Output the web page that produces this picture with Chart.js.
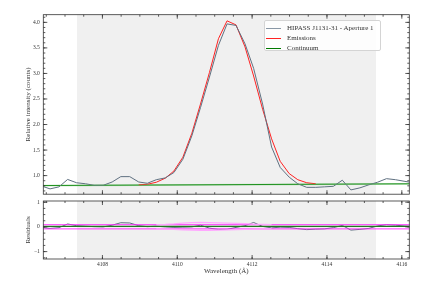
<!DOCTYPE html>
<html>
<head>
<meta charset="utf-8">
<script src="https://cdn.jsdelivr.net/npm/chart.js@4/dist/chart.umd.min.js"></script>
<style>
  html, body { margin: 0; padding: 0; background: #fff; }
  #wrap { position: relative; width: 432px; height: 288px; overflow: hidden; }
  canvas { position: absolute; left: 0; }
  #top { top: 0; }
  #bottom { top: 190px; }
  #legend {
    position: absolute; left: 264px; top: 20px; width: 117px; height: 31px;
    background: rgba(255,255,255,0.85); border: 1px solid #d4d4d4; border-radius: 2px;
    font-family: "Liberation Serif", "DejaVu Serif", serif; font-size: 7px; color: #333;
    box-sizing: border-box; padding-top: 2px;
  }
  #legend div { height: 10px; line-height: 10px; white-space: nowrap; }
  #legend span.sw { display: inline-block; width: 15px; height: 0; vertical-align: middle; margin: 0 6px 0 1px; }
</style>
</head>
<body>
<div id="wrap">
  <canvas id="top" width="432" height="201"></canvas>
  <canvas id="bottom" width="432" height="98"></canvas>
  <div id="legend">
    <div><span class="sw" style="border-top:1.5px solid #8a98a6"></span>HIPASS J1131-31 - Aperture 1</div>
    <div><span class="sw" style="border-top:1.2px solid #ff2222"></span>Emissions</div>
    <div><span class="sw" style="border-top:1.2px solid #007a00"></span>Continuum</div>
  </div>
</div>
<script>
// ---- data ----
const wavelength = [4106.36, 4106.60, 4106.84, 4107.07, 4107.31, 4107.55, 4107.78, 4108.02, 4108.26, 4108.49,
  4108.73, 4108.97, 4109.20, 4109.44, 4109.68, 4109.91, 4110.15, 4110.39, 4110.62, 4110.86,
  4111.10, 4111.33, 4111.57, 4111.81, 4112.04, 4112.28, 4112.52, 4112.75, 4112.99, 4113.22,
  4113.46, 4113.70, 4113.93, 4114.17, 4114.41, 4114.64, 4114.88, 4115.12, 4115.35, 4115.59,
  4115.83, 4116.06, 4116.30];

const flux = [0.80, 0.74, 0.78, 0.925, 0.86, 0.84, 0.81, 0.81, 0.875, 0.98,
  0.98, 0.875, 0.85, 0.92, 0.955, 1.06, 1.32, 1.78, 2.33, 2.93,
  3.55, 3.97, 3.94, 3.58, 3.10, 2.40, 1.56, 1.16, 0.97, 0.84,
  0.77, 0.77, 0.78, 0.79, 0.91, 0.72, 0.76, 0.82, 0.87, 0.94,
  0.92, 0.89, 0.86];

const emissionWave = [4108.97, 4109.20, 4109.44, 4109.68, 4109.91, 4110.15, 4110.39, 4110.62, 4110.86, 4111.10,
  4111.33, 4111.57, 4111.81, 4112.04, 4112.28, 4112.52, 4112.75, 4112.99, 4113.22, 4113.46, 4113.70];
const emissionFlux = [0.82, 0.83, 0.87, 0.95, 1.09, 1.36, 1.83, 2.40, 3.02, 3.68,
  4.03, 3.95, 3.52, 2.95, 2.30, 1.72, 1.28, 1.04, 0.92, 0.86, 0.84];

const continuumWave = [4106.30, 4116.30];
const continuumFlux = [0.805, 0.84];

const residual = [-0.02, -0.06, -0.03, 0.12, 0.05, 0.03, 0.01, 0.00, 0.07, 0.17,
  0.16, 0.05, 0.01, 0.03, 0.00, -0.02, -0.01, 0.00, 0.07, -0.05,
  -0.10, -0.10, -0.02, 0.05, 0.18, 0.02, -0.04, -0.01, -0.02, -0.07,
  -0.11, -0.09, -0.08, -0.03, 0.06, -0.13, -0.10, -0.06, 0.04, 0.09,
  0.07, 0.04, 0.02];

const errUpper = [0.09, 0.09];
const errLower = [-0.08, -0.08];
const zeroLine = [0.02, 0.02];

const envWave = [4109.44, 4109.68, 4109.91, 4110.15, 4110.39, 4110.62, 4110.86, 4111.10, 4111.33, 4111.57,
  4111.81, 4112.04, 4112.28, 4112.52];
const envUpper = [0.09, 0.10, 0.12, 0.15, 0.17, 0.18, 0.17, 0.16, 0.15, 0.14, 0.13, 0.11, 0.10, 0.09];
const envLower = [-0.08, -0.09, -0.10, -0.12, -0.13, -0.14, -0.14, -0.13, -0.12, -0.11, -0.10, -0.09, -0.08, -0.08];

const xTicks = [4108, 4110, 4112, 4114, 4116];
const yTicksTop = [1.0, 1.5, 2.0, 2.5, 3.0, 3.5, 4.0];
const yTicksRes = [-1, 0, 1];
const fitRange = [4107.32, 4115.31];

// ---- helpers ----
const X_MIN = 4106.42, X_MAX = 4116.2;
const serif = "'Liberation Serif', 'DejaVu Serif', serif";

function pts(xs, ys) {
    return xs.map((x, i) => ({ x: x, y: ys[i] }));
}

function line(label, data, color, width) {
    return { label, data, borderColor: color, borderWidth: width, pointRadius: 0, tension: 0, fill: false };
}

function minorList(lo, hi, step) {
    const out = [];
    for (let v = Math.ceil(lo / step) * step; v <= hi + 1e-9; v += step) out.push(+v.toFixed(4));
    return out;
}

// shaded fit window + inward ticks on all four sides, like the matplotlib original
const framePlugin = {
    id: 'frame',
    beforeDatasetsDraw(chart, args, opts) {
        const { ctx, chartArea: a, scales } = chart;
        const x0 = scales.x.getPixelForValue(fitRange[0]);
        const x1 = scales.x.getPixelForValue(fitRange[1]);
        ctx.save();
        ctx.fillStyle = '#f0f0f0';
        ctx.fillRect(x0, a.top, x1 - x0, a.bottom - a.top);
        ctx.restore();
    },
    afterDraw(chart, args, opts) {
        const { ctx, chartArea: a, scales } = chart;
        ctx.save();
        ctx.strokeStyle = '#333';
        ctx.lineWidth = 0.8;
        ctx.strokeRect(a.left, a.top, a.right - a.left, a.bottom - a.top);
        ctx.beginPath();
        const tickX = (v, len) => {
            const px = scales.x.getPixelForValue(v);
            if (px < a.left || px > a.right) return;
            ctx.moveTo(px, a.bottom); ctx.lineTo(px, a.bottom - len);
            ctx.moveTo(px, a.top); ctx.lineTo(px, a.top + len);
        };
        const tickY = (v, len) => {
            const py = scales.y.getPixelForValue(v);
            if (py < a.top - 0.5 || py > a.bottom + 0.5) return;
            ctx.moveTo(a.left, py); ctx.lineTo(a.left + len, py);
            ctx.moveTo(a.right, py); ctx.lineTo(a.right - len, py);
        };
        minorList(X_MIN, X_MAX, 0.5).forEach(v => tickX(v, 2));
        xTicks.forEach(v => tickX(v, 4));
        minorList(opts.yMin, opts.yMax, opts.yMinor).forEach(v => tickY(v, 2));
        opts.yMajor.forEach(v => tickY(v, 4));
        ctx.stroke();
        ctx.restore();
    }
};

function yAxis(min, max, ticks, title, fmt) {
    return {
        type: 'linear', min, max,
        afterFit: s => { s.width = 43.3; },
        afterBuildTicks: s => { s.ticks = ticks.map(v => ({ value: v })); },
        grid: { display: false, drawTicks: false },
        border: { display: false },
        ticks: { color: '#333', padding: 3.5, autoSkip: false, font: { family: serif, size: 5.5 }, callback: fmt },
        title: { display: true, text: title, color: '#333', padding: { top: 23.8, bottom: 0 }, font: { family: serif, size: 7 } }
    };
}

// ---- top panel ----
new Chart(document.getElementById('top'), {
    type: 'line',
    data: {
        datasets: [
            line('Continuum band', pts(continuumWave, continuumFlux), 'rgba(90,190,90,0.35)', 1.8),
            line('HIPASS J1131-31 - Aperture 1', pts(wavelength, flux), '#5f7080', 1),
            line('Emissions', pts(emissionWave, emissionFlux), '#ff2222', 1),
            line('Continuum', pts(continuumWave, continuumFlux), '#007a00', 1)
        ]
    },
    options: {
        responsive: false,
        animation: false,
        layout: { padding: { top: 14.7, right: 22.7, left: 0, bottom: 0 } },
        plugins: {
            legend: { display: false },
            tooltip: { enabled: false },
            frame: { yMajor: yTicksTop, yMin: 0.64, yMax: 4.15, yMinor: 0.1 }
        },
        scales: {
            x: { type: 'linear', min: X_MIN, max: X_MAX, display: false },
            y: yAxis(0.636, 4.15, yTicksTop, 'Relative intensity (counts)', v => v.toFixed(1))
        }
    },
    plugins: [framePlugin]
});

// ---- residual panel ----
new Chart(document.getElementById('bottom'), {
    type: 'line',
    data: {
        datasets: [
            line('Envelope +', pts(envWave, envUpper), '#ffa8ff', 1.3),
            line('Envelope -', pts(envWave, envLower), '#ffa8ff', 1.3),
            line('Error +', pts(continuumWave, errUpper), '#ff22ff', 0.9),
            line('Error -', pts(continuumWave, errLower), '#ff22ff', 0.9),
            line('Zero', pts(continuumWave, zeroLine), '#1f7a1f', 1.1),
            line('Residual', pts(wavelength, residual), '#5f7080', 1)
        ]
    },
    options: {
        responsive: false,
        animation: false,
        layout: { padding: { top: 11, right: 22.7, left: 0, bottom: 0 } },
        plugins: {
            legend: { display: false },
            tooltip: { enabled: false },
            frame: { yMajor: yTicksRes, yMin: -1.3, yMax: 1.05, yMinor: 0.25 }
        },
        scales: {
            x: {
                type: 'linear', min: X_MIN, max: X_MAX,
                afterFit: s => { s.height = 29; },
                afterBuildTicks: s => { s.ticks = xTicks.map(v => ({ value: v })); },
                grid: { display: false, drawTicks: false },
                border: { display: false },
                ticks: { color: '#333', padding: 2, maxRotation: 0, font: { family: serif, size: 5.5 }, callback: v => String(v) },
                title: { display: true, text: 'Wavelength (Å)', color: '#333', padding: { top: 0, bottom: 12.8 }, font: { family: serif, size: 7 } }
            },
            y: yAxis(-1.3, 1.05, yTicksRes, 'Residuals', v => (v < 0 ? '\u2212' + Math.abs(v) : String(v)))
        }
    },
    plugins: [framePlugin]
});
</script>
</body>
</html>
